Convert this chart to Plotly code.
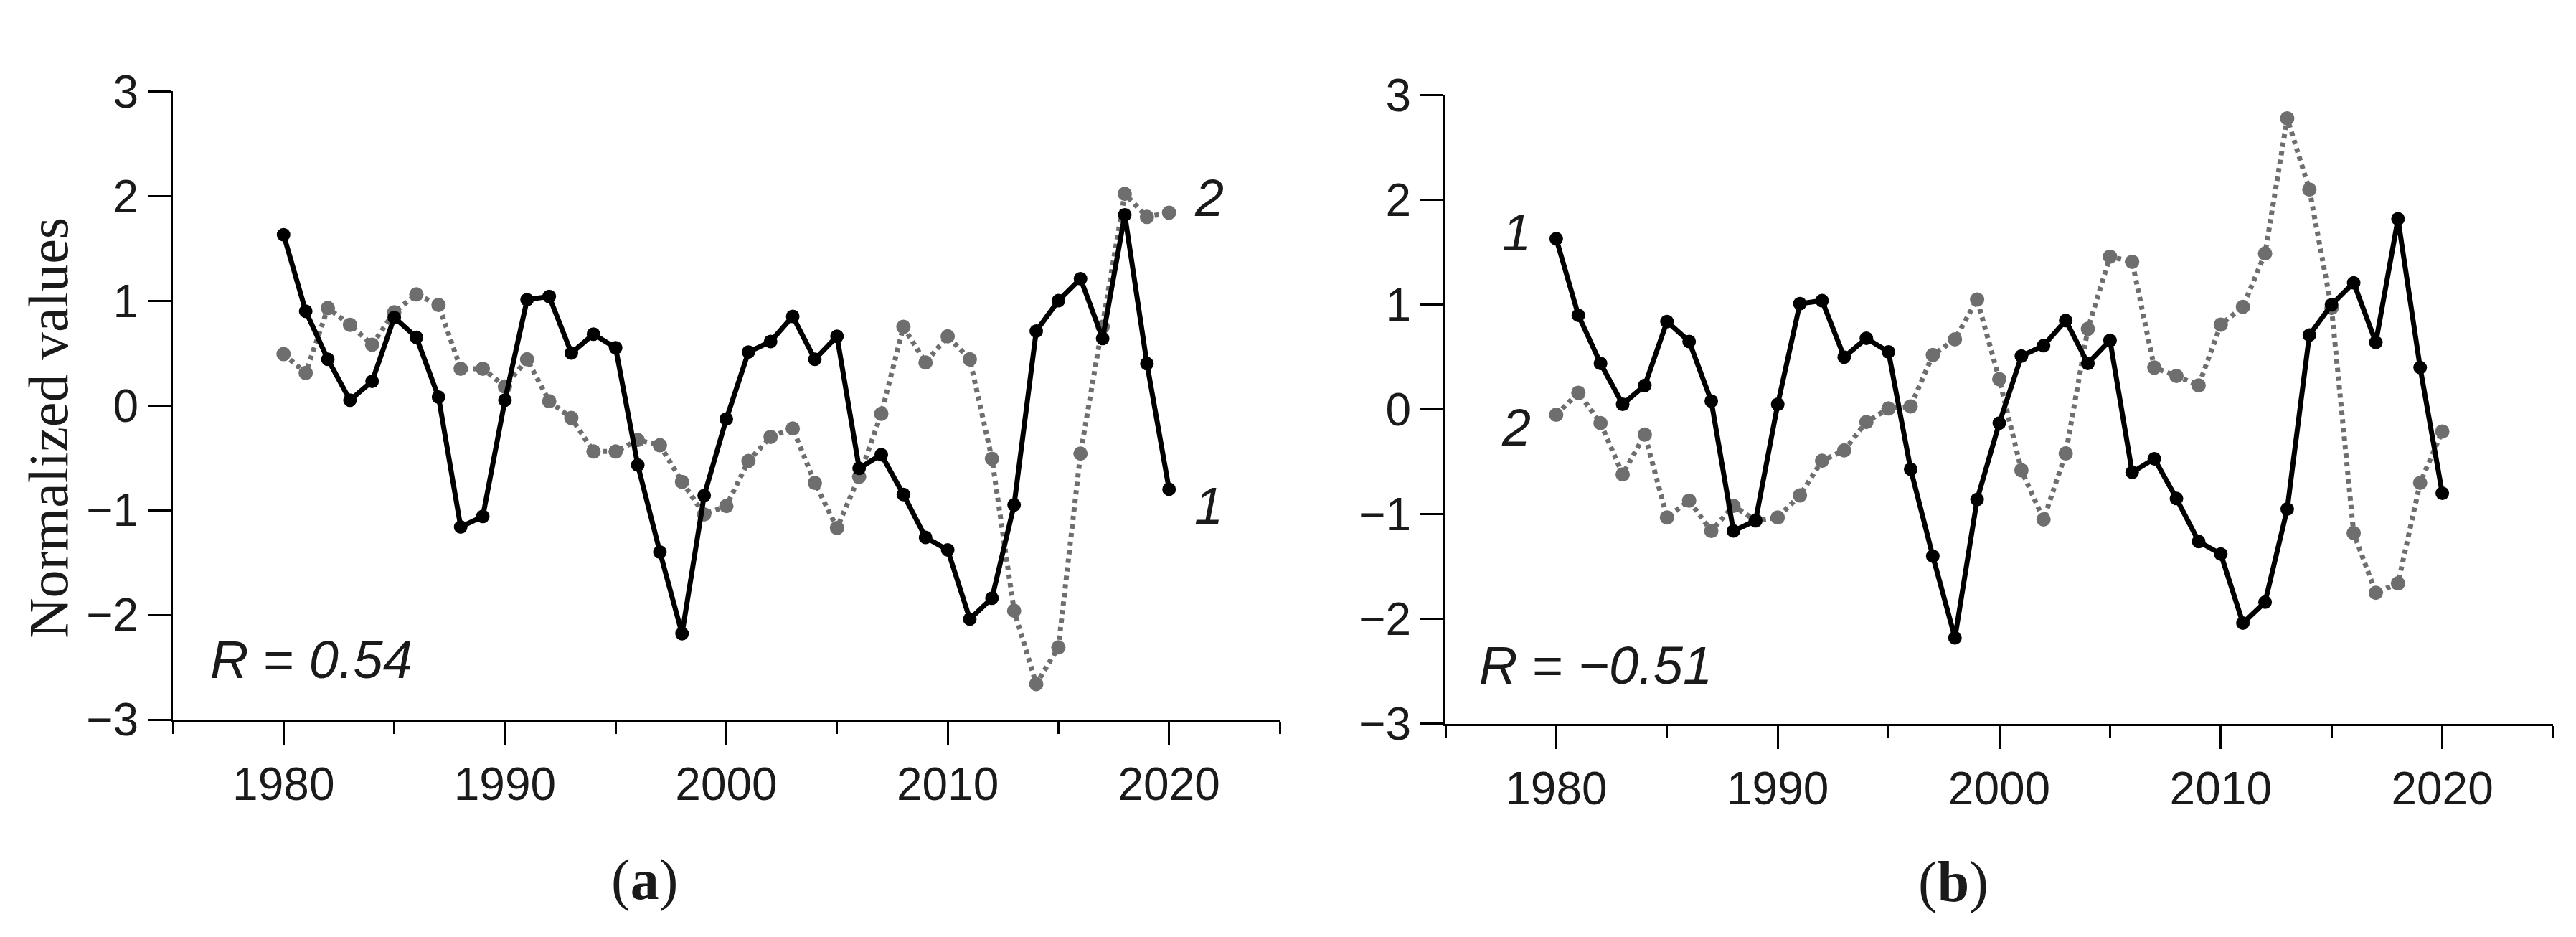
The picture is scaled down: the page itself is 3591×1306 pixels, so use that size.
import plotly.graph_objects as go

W, H = 3591, 1306

years = list(range(1980, 2021))

series1 = [1.63, 0.90, 0.44, 0.05, 0.23, 0.84, 0.65, 0.08, -1.16, -1.06,
           0.05, 1.01, 1.04, 0.50, 0.68, 0.55, -0.57, -1.40, -2.18, -0.86,
           -0.13, 0.51, 0.61, 0.85, 0.44, 0.66, -0.60, -0.47, -0.85, -1.26,
           -1.38, -2.04, -1.84, -0.95, 0.71, 1.00, 1.21, 0.64, 1.82, 0.40,
           -0.80]

series2_a = [0.49, 0.31, 0.93, 0.77, 0.58, 0.89, 1.06, 0.96, 0.35, 0.35,
             0.18, 0.44, 0.04, -0.12, -0.44, -0.44, -0.33, -0.38, -0.73, -1.04,
             -0.96, -0.53, -0.30, -0.22, -0.74, -1.17, -0.68, -0.08, 0.75, 0.41,
             0.66, 0.44, -0.51, -1.96, -2.66, -2.31, -0.46, 0.75, 2.02, 1.80,
             1.84]

series2_b = [-0.05, 0.16, -0.13, -0.62, -0.24, -1.03, -0.87, -1.16, -0.92, -1.06,
             -1.03, -0.82, -0.49, -0.39, -0.12, 0.01, 0.03, 0.52, 0.67, 1.05,
             0.29, -0.58, -1.05, -0.42, 0.77, 1.46, 1.41, 0.40, 0.32, 0.23,
             0.81, 0.98, 1.49, 2.78, 2.10, 0.97, -1.18, -1.75, -1.66, -0.70,
             -0.21]

y_ticks = [-3, -2, -1, 0, 1, 2, 3]
x_ticks = [1980, 1990, 2000, 2010, 2020]
r_labels = ["<i>R</i> = <i>0.54</i>", "<i>R</i> = <i>\u22120.51</i>"]
panel_labels = ["(<b>a</b>)", "(<b>b</b>)"]
y_title = "Normalized values"

BLACK = "#000000"
GRAY = "#6e6e6e"
TXT = "#1a1a1a"
SANS = "Liberation Sans, Arial, sans-serif"
SERIF = "Liberation Serif, Times New Roman, serif"


def px_x(p):
    return p / W


def px_y(p):
    return 1 - p / H


fig = go.Figure()

for i, s2 in enumerate([series2_a, series2_b]):
    xa = "x" if i == 0 else "x2"
    ya = "y" if i == 0 else "y2"
    fig.add_trace(go.Scatter(
        x=years, y=s2, mode="lines+markers", xaxis=xa, yaxis=ya,
        line=dict(color=GRAY, width=7, dash="6px,6px"),
        marker=dict(color=GRAY, size=20), showlegend=False))
    fig.add_trace(go.Scatter(
        x=years, y=series1, mode="lines+markers", xaxis=xa, yaxis=ya,
        line=dict(color=BLACK, width=7),
        marker=dict(color=BLACK, size=19), showlegend=False))

xcommon = dict(
    range=[1975, 2025], tickvals=x_ticks, ticktext=[str(v) for v in x_ticks],
    showline=True, linecolor=BLACK, linewidth=3, showgrid=False, zeroline=False,
    ticks="outside", ticklen=32, tickwidth=3, tickcolor=BLACK,
    minor=dict(dtick=5, tick0=1975, ticks="outside", ticklen=17, tickwidth=3,
               tickcolor=BLACK, showgrid=False),
    tickfont=dict(family=SANS, size=64, color=TXT), fixedrange=True,
)
ycommon = dict(
    range=[-3, 3], tickvals=y_ticks,
    ticktext=[("\u2212" + str(-v)) if v < 0 else str(v) for v in y_ticks],
    showline=True, linecolor=BLACK, linewidth=3, showgrid=False, zeroline=False,
    ticks="outside", ticklen=32, tickwidth=3, tickcolor=BLACK,
    tickfont=dict(family=SANS, size=64, color=TXT), fixedrange=True,
)

fig.update_layout(
    width=W, height=H, autosize=False,
    margin=dict(l=0, r=0, t=0, b=0),
    paper_bgcolor="white", plot_bgcolor="white",
    xaxis=dict(xcommon, domain=[px_x(233), px_x(1776)], anchor="y"),
    yaxis=dict(ycommon, domain=[px_y(1015), px_y(88)], anchor="x"),
    xaxis2=dict(xcommon, domain=[px_x(2007), px_x(3551)], anchor="y2"),
    yaxis2=dict(ycommon, domain=[px_y(1021), px_y(94)], anchor="x2"),
)

ann = []
ann.append(dict(text=y_title, x=px_x(60), y=px_y(585), xref="paper", yref="paper",
                textangle=-90, showarrow=False, xanchor="center", yanchor="middle",
                font=dict(family=SERIF, size=78, color=TXT)))
ann.append(dict(text=r_labels[0], x=px_x(283), y=px_y(927), xref="paper", yref="paper",
                showarrow=False, xanchor="left", yanchor="middle",
                font=dict(family=SANS, size=74, color=TXT)))
ann.append(dict(text=r_labels[1], x=px_x(2052), y=px_y(935), xref="paper", yref="paper",
                showarrow=False, xanchor="left", yanchor="middle",
                font=dict(family=SANS, size=74, color=TXT)))
for txt, xr, yr, xv, yv in [("<i>2</i>", "x", "y", 2021.8, 1.98),
                             ("<i>1</i>", "x", "y", 2021.8, -0.96),
                             ("<i>1</i>", "x2", "y2", 1978.2, 1.69),
                             ("<i>2</i>", "x2", "y2", 1978.2, -0.17)]:
    ann.append(dict(text=txt, x=xv, y=yv, xref=xr, yref=yr, showarrow=False,
                    xanchor="center", yanchor="middle",
                    font=dict(family=SANS, size=72, color=TXT)))
ann.append(dict(text=panel_labels[0], x=px_x(890), y=px_y(1252), xref="paper", yref="paper",
                showarrow=False, xanchor="center", yanchor="middle",
                font=dict(family=SERIF, size=80, color=TXT)))
ann.append(dict(text=panel_labels[1], x=px_x(2715), y=px_y(1255), xref="paper", yref="paper",
                showarrow=False, xanchor="center", yanchor="middle",
                font=dict(family=SERIF, size=80, color=TXT)))

fig.update_layout(annotations=ann)

fig.write_html("out.html")
